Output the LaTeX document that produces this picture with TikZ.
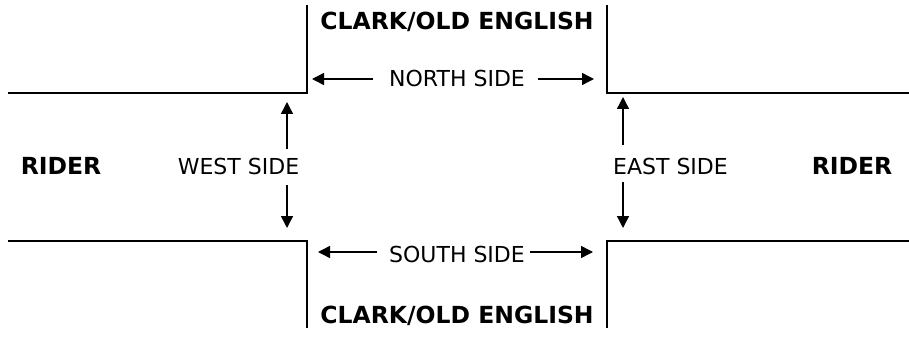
\documentclass[tikz,border=0pt]{standalone}
\usepackage{fontspec}
\setmainfont{DejaVu Sans}
\usetikzlibrary{arrows.meta}
\tikzset{
  road/.style={line width=2.4pt, line join=miter},
  lbl/.style={anchor=base, inner sep=0pt, font=\fontsize{22}{24}\selectfont},
  blbl/.style={lbl, font=\fontsize{23.5}{25}\selectfont\bfseries},
  dimarrow/.style={line width=1.4pt, -{Triangle[length=12pt,width=12pt]}}
}
\begin{document}
\begin{tikzpicture}[x=1pt,y=-1pt]
\useasboundingbox (0,0) rectangle (909,339);
% road edges
\coordinate (nwA) at (8,93); \coordinate (nwB) at (307,93); \coordinate (nwC) at (307,5);
\coordinate (neA) at (607,5); \coordinate (neB) at (607,93); \coordinate (neC) at (909,93);
\coordinate (swA) at (8,241); \coordinate (swB) at (307,241); \coordinate (swC) at (307,328);
\coordinate (seA) at (607,328); \coordinate (seB) at (607,241); \coordinate (seC) at (909,241);
\draw[road] (nwA) -- (nwB) -- (nwC);
\draw[road] (neA) -- (neB) -- (neC);
\draw[road] (swA) -- (swB) -- (swC);
\draw[road] (seA) -- (seB) -- (seC);
% labels
\node[blbl] (clarkN) at (457,30) {CLARK/OLD ENGLISH};
\node[blbl] (clarkS) at (457,323) {CLARK/OLD ENGLISH};
\node[blbl] (riderW) at (61,175) {RIDER};
\node[blbl] (riderE) at (852,175) {RIDER};
\node[lbl] (north) at (457,87) {NORTH SIDE};
\node[lbl] (south) at (457,262) {SOUTH SIDE};
\node[lbl] (west) at (238.5,175) {WEST SIDE};
\node[lbl] (east) at (670.5,175) {EAST SIDE};
% arrow ends
\coordinate (nLt) at (373,79); \coordinate (nLh) at (312,79);
\coordinate (nRt) at (538,79); \coordinate (nRh) at (594,79);
\coordinate (sLt) at (377,252); \coordinate (sLh) at (318,252);
\coordinate (sRt) at (530,252); \coordinate (sRh) at (593,252);
\coordinate (wUt) at (287,149); \coordinate (wUh) at (287,102);
\coordinate (wDt) at (287,185); \coordinate (wDh) at (287,228);
\coordinate (eUt) at (623,145); \coordinate (eUh) at (623,97);
\coordinate (eDt) at (623,182); \coordinate (eDh) at (623,228);
\draw[dimarrow] (nLt) -- (nLh);
\draw[dimarrow] (nRt) -- (nRh);
\draw[dimarrow] (sLt) -- (sLh);
\draw[dimarrow] (sRt) -- (sRh);
\draw[dimarrow] (wUt) -- (wUh);
\draw[dimarrow] (wDt) -- (wDh);
\draw[dimarrow] (eUt) -- (eUh);
\draw[dimarrow] (eDt) -- (eDh);
\end{tikzpicture}
\end{document}
